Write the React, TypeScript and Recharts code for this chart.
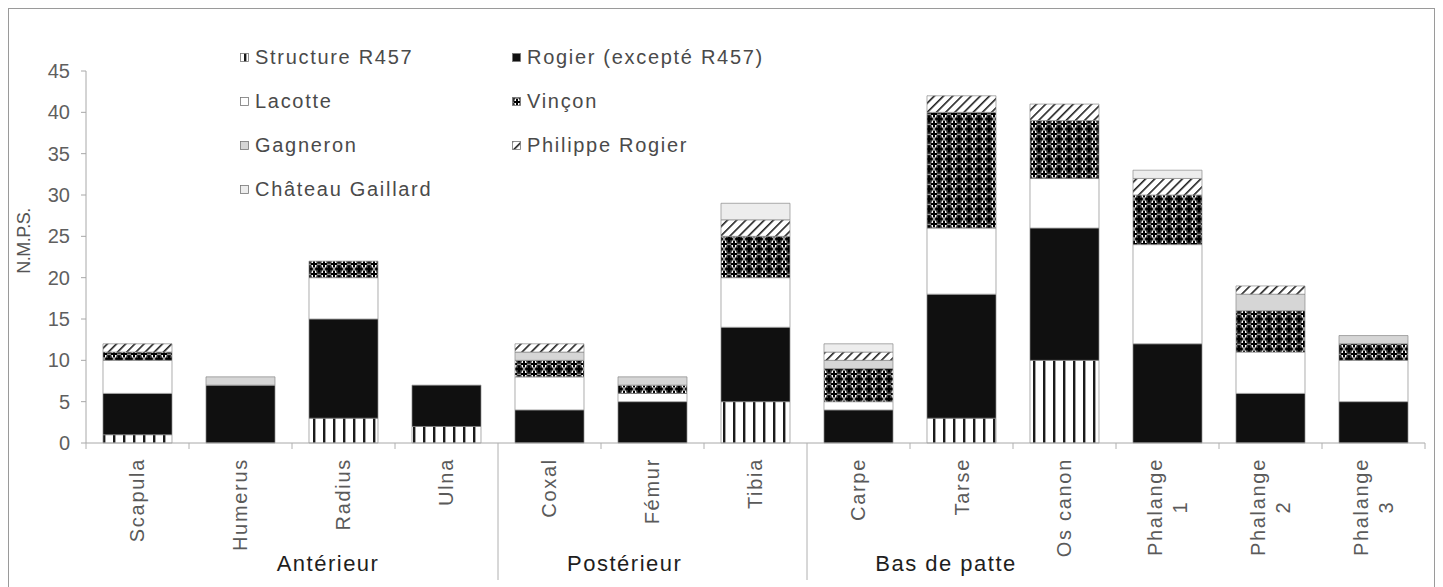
import { Bar, BarChart, Legend, XAxis, YAxis } from "recharts";

const FONT = "'Liberation Sans', Arial, sans-serif";

// categories (\n = line break in the axis label)
const categories = [
  "Scapula", "Humerus", "Radius", "Ulna",
  "Coxal", "Fémur", "Tibia",
  "Carpe", "Tarse", "Os canon", "Phalange\n1", "Phalange\n2", "Phalange\n3"
];

// N.M.P.S. per site, bottom to top of each stack
const structureR457 = [1, 0, 3, 2, 0, 0, 5, 0, 3, 10, 0, 0, 0];
const rogier = [5, 7, 12, 5, 4, 5, 9, 4, 15, 16, 12, 6, 5];
const lacotte = [4, 0, 5, 0, 4, 1, 6, 1, 8, 6, 12, 5, 5];
const vincon = [1, 0, 2, 0, 2, 1, 5, 4, 14, 7, 6, 5, 2];
const gagneron = [0, 1, 0, 0, 1, 1, 0, 1, 0, 0, 0, 2, 1];
const philippeRogier = [1, 0, 0, 0, 1, 0, 2, 1, 2, 2, 2, 1, 0];
const chateauGaillard = [0, 0, 0, 0, 0, 0, 2, 1, 0, 0, 1, 0, 0];

const groupNames = ["Antérieur", "Postérieur", "Bas de patte"];
const groupStarts = [0, 4, 7];

const yTicks = [0, 5, 10, 15, 20, 25, 30, 35, 40, 45];

// where each group caption sits, in category widths from the left of the plot
const GROUP_CAPTION_AT = [2.35, 5.23, 8.35];

const SERIES = [
  { key: "r457", name: "Structure R457", fill: "url(#pat-r457)", values: structureR457 },
  { key: "rogier", name: "Rogier (excepté R457)", fill: "#101010", values: rogier },
  { key: "lacotte", name: "Lacotte", fill: "#ffffff", values: lacotte },
  { key: "vincon", name: "Vinçon", fill: "url(#pat-vincon)", values: vincon },
  { key: "gagneron", name: "Gagneron", fill: "#d6d6d6", values: gagneron },
  { key: "phrogier", name: "Philippe Rogier", fill: "url(#pat-phr)", values: philippeRogier },
  { key: "gaillard", name: "Château Gaillard", fill: "#ededed", values: chateauGaillard }
];

const rows = categories.map((category, i) => {
  const row: Record<string, string | number> = { category };
  SERIES.forEach((s) => {
    row[s.key] = s.values[i];
  });
  return row;
});

let measureCtx: CanvasRenderingContext2D | null = null;
function textWidth(text: string, font: string, spacing: number) {
  if (!measureCtx) measureCtx = document.createElement("canvas").getContext("2d");
  if (!measureCtx) return text.length * 10;
  measureCtx.font = font;
  return measureCtx.measureText(text).width + spacing * text.length;
}

function CategoryTick(props: any) {
  const { x, y, payload, visibleTicksCount, width } = props;
  const index: number = payload?.index ?? props.index ?? 0;
  const half: number = payload?.offset || width / visibleTicksCount / 2;
  const lines = String(payload.value).split("\n");
  const w = Math.max(...lines.map((l) => textWidth(l, `20px ${FONT}`, 1.7)));
  const cy = y + 15 + w / 2;
  const group = groupStarts.indexOf(index);
  const left = x - half;

  return (
    <g>
      {group > 0 ? (
        <line x1={left} x2={left} y1={y} y2={y + 137} stroke="#b0b0b0" />
      ) : (
        <line x1={left} x2={left} y1={y} y2={y + 6} stroke="#b0b0b0" />
      )}
      {index === categories.length - 1 && (
        <line x1={x + half} x2={x + half} y1={y} y2={y + 6} stroke="#b0b0b0" />
      )}
      {lines.map((line, j) => {
        const lx = x + (j - (lines.length - 1) / 2) * 25;
        return (
          <text
            key={j}
            x={lx}
            y={cy}
            transform={`rotate(-90 ${lx} ${cy})`}
            textAnchor="middle"
            dominantBaseline="central"
            fill="#5a5a5a"
            fontSize={20}
            letterSpacing={1.7}
            fontFamily={FONT}
          >
            {line}
          </text>
        );
      })}
      {group >= 0 && (
        <text
          x={left + GROUP_CAPTION_AT[group] * half * 2 - index * half * 2}
          y={y + 120}
          textAnchor="middle"
          dominantBaseline="central"
          fill="#1e1e1e"
          fontSize={22}
          letterSpacing={1.5}
          fontFamily={FONT}
        >
          {groupNames[group]}
        </text>
      )}
    </g>
  );
}

function LegendGrid() {
  return (
    <div
      style={{
        display: "grid",
        gridTemplateColumns: "272px 300px",
        gridAutoRows: "44px",
        fontFamily: FONT,
        fontSize: 20,
        letterSpacing: 1.7,
        color: "#4a4a4a"
      }}
    >
      {SERIES.map((s) => (
        <div key={s.key} style={{ display: "flex", alignItems: "center", whiteSpace: "nowrap" }}>
          <svg width={9} height={9} style={{ marginRight: 6 }}>
            <rect x={0.5} y={0.5} width={8} height={8} fill={s.fill} stroke="#777" strokeWidth={0.8} />
          </svg>
          {s.name}
        </div>
      ))}
    </div>
  );
}

function YLabel(props: any) {
  const vb = props.viewBox ?? { x: 0, y: 62, width: 77, height: 372 };
  const cx = vb.x + 15;
  const cy = vb.y + vb.height / 2 - 16;
  return (
    <text
      x={cx}
      y={cy}
      transform={`rotate(-90 ${cx} ${cy})`}
      textAnchor="middle"
      dominantBaseline="central"
      fill="#555"
      fontSize={18}
      letterSpacing={-0.5}
      fontFamily={FONT}
    >
      N.M.P.S.
    </text>
  );
}

export default function App() {
  return (
    <div style={{ width: 1425, height: 580, border: "1px solid #9a9a9a", background: "#fff" }}>
      <svg width={0} height={0} style={{ position: "absolute" }}>
        <defs>
          <pattern id="pat-r457" width="10" height="10" patternUnits="userSpaceOnUse">
            <rect width="10" height="10" fill="#fff" />
            <rect x="4" width="2.4" height="10" fill="#1a1a1a" />
          </pattern>
          <pattern id="pat-phr" width="6.5" height="6.5" patternUnits="userSpaceOnUse" patternTransform="rotate(45)">
            <rect width="6.5" height="6.5" fill="#fff" />
            <rect width="1.6" height="6.5" fill="#222" />
          </pattern>
          <pattern id="pat-vincon" width="10" height="10" patternUnits="userSpaceOnUse">
            <rect width="10" height="10" fill="#fff" />
            <path d="M0 0 L3 3 L0 6 Z M10 0 L7 3 L10 6 Z M0 4 L3 7 L0 10 Z M10 4 L7 7 L10 10 Z M0 0 L5 0 L2.5 2.5 Z M5 0 L10 0 L7.5 2.5 Z M0 10 L5 10 L2.5 7.5 Z M5 10 L10 10 L7.5 7.5 Z" fill="#333" />
            <rect x="4" y="1.5" width="2" height="7" fill="#000" />
            <rect x="1.5" y="4" width="7" height="2" fill="#000" />
            <rect x="-1" y="-3.5" width="2" height="7" fill="#000" />
            <rect x="-3.5" y="-1" width="7" height="2" fill="#000" />
            <rect x="9" y="-3.5" width="2" height="7" fill="#000" />
            <rect x="6.5" y="-1" width="7" height="2" fill="#000" />
            <rect x="-1" y="6.5" width="2" height="7" fill="#000" />
            <rect x="-3.5" y="9" width="7" height="2" fill="#000" />
            <rect x="9" y="6.5" width="2" height="7" fill="#000" />
            <rect x="6.5" y="9" width="7" height="2" fill="#000" />
          </pattern>
        </defs>
      </svg>
      <BarChart
        width={1425}
        height={579}
        data={rows}
        margin={{ top: 62, right: 9, left: 0, bottom: 0 }}
        barCategoryGap="16.5%"
      >
        <XAxis
          dataKey="category"
          height={145}
          interval={0}
          tickLine={false}
          tickSize={0}
          tickMargin={0}
          axisLine={{ stroke: "#a8a8a8" }}
          tick={(p: any) => <CategoryTick {...p} />}
        />
        <YAxis
          width={77}
          domain={[0, 45]}
          ticks={yTicks}
          interval={0}
          tickSize={5}
          tickMargin={11}
          axisLine={{ stroke: "#a8a8a8" }}
          tickLine={{ stroke: "#a8a8a8" }}
          tick={{ fill: "#5f5f5f", fontSize: 20, fontFamily: FONT }}
          label={{ content: (p: any) => <YLabel {...p} /> }}
        />
        <Legend
          layout="horizontal"
          verticalAlign="middle"
          align="center"
          wrapperStyle={{ top: 26, left: 231, width: 600 }}
          content={() => <LegendGrid />}
        />
        {SERIES.map((s) => (
          <Bar
            key={s.key}
            dataKey={s.key}
            name={s.name}
            stackId="nmps"
            fill={s.fill}
            stroke="#8a8a8a"
            strokeWidth={0.7}
            isAnimationActive={false}
          />
        ))}
      </BarChart>
    </div>
  );
}
